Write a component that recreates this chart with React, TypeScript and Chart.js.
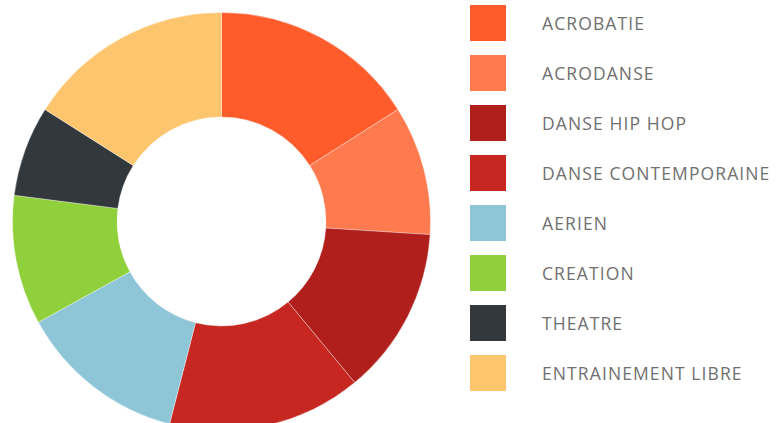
import React, { useEffect, useRef } from "react";
import { Chart, registerables } from "chart.js";

Chart.register(...registerables);

const categories = [
  "ACROBATIE",
  "ACRODANSE",
  "DANSE HIP HOP",
  "DANSE CONTEMPORAINE",
  "AERIEN",
  "CREATION",
  "THEATRE",
  "ENTRAINEMENT LIBRE",
];
const values = [16, 10, 13, 15, 13, 10, 7, 16];
const colors = [
  "#FF5B2B",
  "#FF7A4E",
  "#B01F1B",
  "#C62821",
  "#8EC6D7",
  "#8FD03B",
  "#33383D",
  "#FDC56D",
];

export default function App() {
  const ref = useRef<HTMLCanvasElement | null>(null);

  useEffect(() => {
    if (!ref.current) return;
    const chart = new Chart(ref.current, {
      type: "doughnut",
      data: {
        labels: categories,
        datasets: [
          {
            data: values,
            backgroundColor: colors,
            borderColor: "rgba(255,255,255,0.35)",
            borderWidth: 1,
          },
        ],
      },
      options: {
        responsive: false,
        animation: false,
        cutout: "50%",
        layout: { padding: 0 },
        plugins: {
          legend: { display: false },
          tooltip: { enabled: false },
        },
      },
    });
    return () => chart.destroy();
  }, []);

  return (
    <div style={{ position: "absolute", left: 0, top: 0, width: 781, height: 423, overflow: "hidden" }}>
      <div style={{ position: "absolute", left: 12, top: 12, width: 419, height: 419 }}>
        <canvas ref={ref} width={419} height={419} style={{ width: 419, height: 419 }} />
      </div>
      <div style={{ position: "absolute", left: 470, top: 5 }}>
        {categories.map((c, i) => (
          <div key={c} style={{ display: "flex", alignItems: "center", height: 36, marginBottom: 14 }}>
            <div style={{ width: 36, height: 36, background: colors[i] }} />
            <span
              style={{
                marginLeft: 36,
                marginTop: -1,
                fontFamily: "'Open Sans', sans-serif",
                fontSize: 17.5,
                fontWeight: 400,
                letterSpacing: 1.1,
                color: "#707070",
                whiteSpace: "nowrap",
              }}
            >
              {c}
            </span>
          </div>
        ))}
      </div>
    </div>
  );
}
